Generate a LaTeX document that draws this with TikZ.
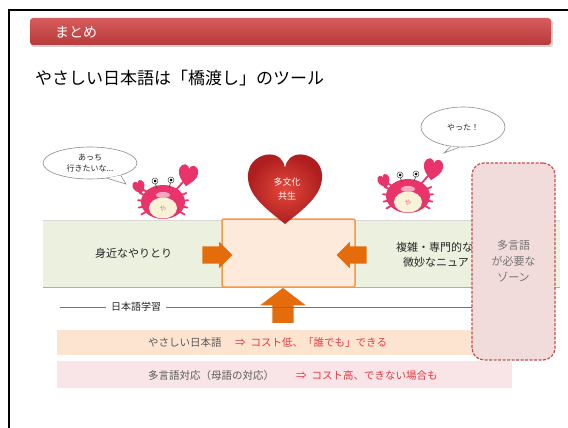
\documentclass[tikz,border=0pt]{standalone}
\usepackage{fontspec}
\setmainfont{Noto Sans CJK JP}
\usetikzlibrary{shapes.geometric,shapes.arrows}

\definecolor{headtop}{HTML}{D85C5D}
\definecolor{headbot}{HTML}{B83A3B}
\definecolor{inktext}{HTML}{262626}
\definecolor{softtext}{HTML}{595959}
\definecolor{costred}{HTML}{E23B45}
\definecolor{bandgreen}{HTML}{EBF1DE}
\definecolor{bandline}{HTML}{95B3D7}
\definecolor{boxpeach}{HTML}{FDEADA}
\definecolor{boxorange}{HTML}{F79646}
\definecolor{arroworange}{HTML}{E46C0A}
\definecolor{easyband}{HTML}{FDE4D0}
\definecolor{multiband}{HTML}{F9E5E7}
\definecolor{zonefill}{HTML}{F2DCDB}
\definecolor{zoneline}{HTML}{C0504D}
\definecolor{crabred}{HTML}{E8336B}
\definecolor{crabbelly}{HTML}{F8F2D6}
\definecolor{crabmouth}{HTML}{F7A9C1}
\definecolor{heartin}{HTML}{E4483B}
\definecolor{heartout}{HTML}{AE1E1F}

% heart outline around (0,0), tip at the bottom
\newcommand\heartpath{(0,42) .. controls (-18,25) and (-36,10) .. (-36,-12)
  .. controls (-36,-30) and (-23,-37) .. (-15,-37)
  .. controls (-6,-37) and (-1,-30) .. (0,-22)
  .. controls (1,-30) and (6,-37) .. (15,-37)
  .. controls (23,-37) and (36,-30) .. (36,-12)
  .. controls (36,10) and (18,25) .. (0,42) -- cycle}

\tikzset{
  every node/.style={inner sep=0pt, align=center},
  bodytext/.style={text=inktext, font=\fontsize{11}{15}\selectfont},
  bandtext/.style={text=softtext, font=\fontsize{10.5}{13}\selectfont},
  costtext/.style={text=costred, font=\fontsize{10.5}{13}\selectfont},
  bubble/.style={ellipse, draw=black!45, line width=0.6pt, fill=white,
    font=\fontsize{8}{11}\selectfont, text=inktext},
  fatarrow/.style={single arrow, fill=arroworange, draw=none, inner sep=8.5pt,
    single arrow head extend=4.5pt, minimum height=30pt},
  crableg/.style={draw=crabred, line width=1.8pt, line cap=round},
  crab/.pic={
    \foreach \a in {150,167,184,201} \draw[crableg] (\a:16) -- (\a:25);
    \foreach \a in {-21,-4,13,30} \draw[crableg] (\a:16) -- (\a:25);
    \draw[crableg] (-14,-9) -- (-21,-13);
    \draw[crableg] (12,-11) -- (20,-20);
    \begin{scope}[shift={(-24,-15)},scale=0.17,rotate=20]
      \fill[crabred] \heartpath;
    \end{scope}
    \begin{scope}[shift={(25,-27)},scale=0.27,rotate=-10]
      \fill[crabred] \heartpath;
    \end{scope}
    \fill[crabred] (0,0) ellipse [x radius=22, y radius=17];
    \fill[crabbelly] (0,6) ellipse [x radius=14, y radius=10.5];
    \node[text=crabred!70, font=\fontsize{7}{7}\selectfont, rotate=-15] (-mark) at (0,7) {や};
    \fill[crabmouth] (0,-7) ellipse [x radius=7, y radius=3];
    \draw[black!70, line width=0.7pt] (-6,-14) -- (-8,-19) (6,-15) -- (8,-20);
    \filldraw[fill=white, draw=black!70, line width=0.5pt] (-8,-21) circle [radius=3] (8,-22) circle [radius=3];
    \fill[black] (-8,-21) circle [radius=1.5] (8,-22) circle [radius=1.5];
  }
}

\begin{document}
\begin{tikzpicture}[x=1pt, y=-1pt]
  \useasboundingbox[fill=white] (0,0) rectangle (568,428);
  \draw[line width=2pt] (9,428) -- (9,10) -- (568,10);

  % header bar and title
  \fill[black!18, rounded corners=3pt] (31,20) rectangle (553,47);
  \shade[top color=headtop, bottom color=headbot, rounded corners=3pt]
    (30,18) rectangle (551,45);
  \node[anchor=west, text=white, font=\fontsize{14}{14}\selectfont] (head) at (55,32) {まとめ};
  \node[anchor=west, text=black, font=\fontsize{17}{17}\selectfont] (title) at (35,78)
    {やさしい日本語は「橋渡し」のツール};

  % green band with the bridge box
  \fill[bandgreen] (43,220) rectangle (560,287);
  \draw[black!15, line width=0.5pt] (43,220) -- (560,220);
  \draw[bandline, line width=0.8pt] (43,287) -- (560,287);
  \node[bodytext, anchor=west] (near) at (95,253) {身近なやりとり};
  \node[bodytext, anchor=west] (far1) at (396,247) {複雑・専門的な};
  \node[bodytext, anchor=west] (far2) at (403,262) {微妙なニュア};
  \node[draw=boxorange, fill=boxpeach, line width=1.5pt, rounded corners=2pt,
    minimum width=133pt, minimum height=68pt] (bridge) at (288.5,253) {};
  \node[fatarrow] (inleft) at (213,255) {};
  \node[fatarrow, shape border rotate=180] (inright) at (356,255) {};
  \node[fatarrow, shape border rotate=90, inner sep=10.5pt, single arrow head extend=12pt,
    single arrow tip angle=105, minimum height=35pt] (inup) at (283,309.5) {};

  % learning line and the two bands
  \node[text=inktext, font=\fontsize{10}{10}\selectfont] (learn) at (136,307) {日本語学習};
  \coordinate (lstart) at (60,307);
  \coordinate (lend) at (480,307);
  \draw[black!55, line width=0.8pt] (lstart) -- ([xshift=-5pt]learn.west);
  \draw[black!55, line width=0.8pt] ([xshift=5pt]learn.east) -- (lend);
  \fill[easyband] (57,330) rectangle (480,355);
  \node[bandtext, anchor=west] (easy) at (148,343) {やさしい日本語};
  \node[costtext, anchor=west] (easycost) at (235,343) {⇒\hspace{5pt}コスト低、「誰でも」できる};
  \fill[multiband] (57,361) rectangle (512,388);
  \node[bandtext, anchor=west] (multi) at (148,376) {多言語対応（母語の対応）};
  \node[costtext, anchor=west] (multicost) at (296,376) {⇒\hspace{5pt}コスト高、できない場合も};

  % zone where several languages are needed
  \node[draw=zoneline, fill=zonefill, dashed, dash pattern=on 3pt off 1.5pt,
    line width=1.2pt, rounded corners=12pt, minimum width=83pt, minimum height=197pt,
    text=black!55, font=\fontsize{11}{16}\selectfont] (zone) at (513.5,261.5)
    {多言語\\が必要な\\ゾーン};

  % speech bubbles
  \node[bubble, minimum width=94pt, minimum height=32pt] (lbub) at (90,163) {あっち\\行きたいな...};
  \coordinate (ltip) at (126,184);
  \fill[white] (lbub.-22) -- (ltip) -- (lbub.-42) -- cycle;
  \draw[black!45, line width=0.6pt] (lbub.-22) -- (ltip) -- (lbub.-42);
  \node[bubble, minimum width=84pt, minimum height=40pt] (rbub) at (463,127) {やった！};
  \coordinate (rtip) at (444,153);
  \fill[white] (rbub.-100) -- (rtip) -- (rbub.-122) -- cycle;
  \draw[black!45, line width=0.6pt] (rbub.-100) -- (rtip) -- (rbub.-122);

  % crabs
  \pic (lcrab) at (163,202) {crab};
  \pic (rcrab) at (408,196) {crab};

  % heart
  \begin{scope}[shift={(285,187)}, xscale=1.03, yscale=0.88]
    \shade[inner color=heartin, outer color=heartout] \heartpath;
  \end{scope}
  \node[text=white, font=\fontsize{9}{14}\selectfont] (heart) at (287,189) {多文化\\共生};
\end{tikzpicture}
\end{document}
